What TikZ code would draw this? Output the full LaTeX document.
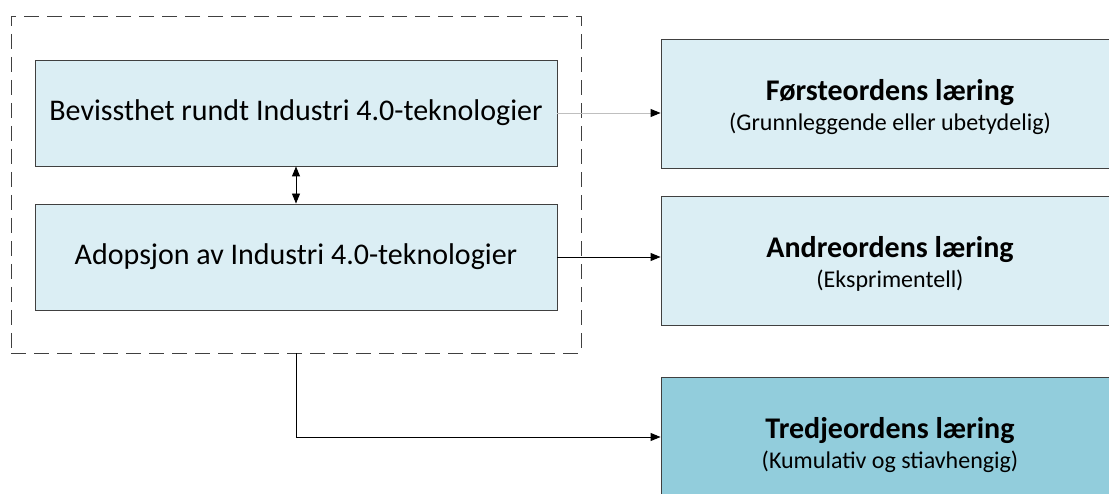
\documentclass[tikz,border=0pt]{standalone}
\usepackage{fontspec}
\setmainfont{Carlito}
\usetikzlibrary{arrows.meta}
\definecolor{lightfill}{HTML}{DBEEF4}
\definecolor{darkfill}{HTML}{92CDDC}
\definecolor{edgegray}{HTML}{404040}
\definecolor{palegray}{HTML}{BFBFBF}
\tikzset{
  leftbox/.style={draw=edgegray, line width=0.9pt, fill=lightfill, minimum width=522pt, minimum height=106pt, inner sep=0pt, font=\fontsize{30}{36}\selectfont},
  rightbox/.style={draw=edgegray, line width=0.9pt, fill=lightfill, minimum width=458pt, minimum height=129pt, inner sep=0pt, align=center},
  groupbox/.style={draw=edgegray, line width=0.9pt, dash pattern=on 15pt off 8pt, minimum width=570pt, minimum height=337pt, inner sep=0pt},
  conn/.style={line width=0.9pt, black, -{Triangle[length=10pt,width=8pt,color=black]}},
}
\newcommand{\ttltxt}[1]{{\fontsize{30}{36}\selectfont\bfseries\rule{0pt}{28pt}#1}}
\newcommand{\subtxt}[1]{{\fontsize{24}{30}\selectfont #1}}
\begin{document}
\begin{tikzpicture}[x=1pt,y=-1pt]
\useasboundingbox (0,0) rectangle (1109,494);
\clip (0,0) rectangle (1109,494);
\node[groupbox] (grp) at (296,184.5) {};
\node[leftbox] (b1) at (296,113) {Bevissthet rundt Industri 4.0-teknologier};
\node[leftbox] (b2) at (296,257) {Adopsjon av Industri 4.0-teknologier};
\node[rightbox] (r1) at (890,103.5) {\ttltxt{Førsteordens læring}\\[7pt]\subtxt{(Grunnleggende eller ubetydelig)}};
\node[rightbox] (r2) at (890,260.5) {\ttltxt{Andreordens læring}\\[7pt]\subtxt{(Eksprimentell)}};
\node[rightbox, fill=darkfill] (r3) at (890,441.5) {\ttltxt{Tredjeordens læring}\\[7pt]\subtxt{(Kumulativ og stiavhengig)}};
\draw[conn, {Triangle[length=10pt,width=8pt]}-{Triangle[length=10pt,width=8pt]}] (b1.south) -- (b2.north);
\draw[conn, draw=palegray] (b1.east) -- (b1.east -| r1.west);
\draw[conn] (b2.east) -- (b2.east -| r2.west);
\draw[conn] (grp.south) |- ([yshift=4.5pt]r3.west);
\end{tikzpicture}
\end{document}
